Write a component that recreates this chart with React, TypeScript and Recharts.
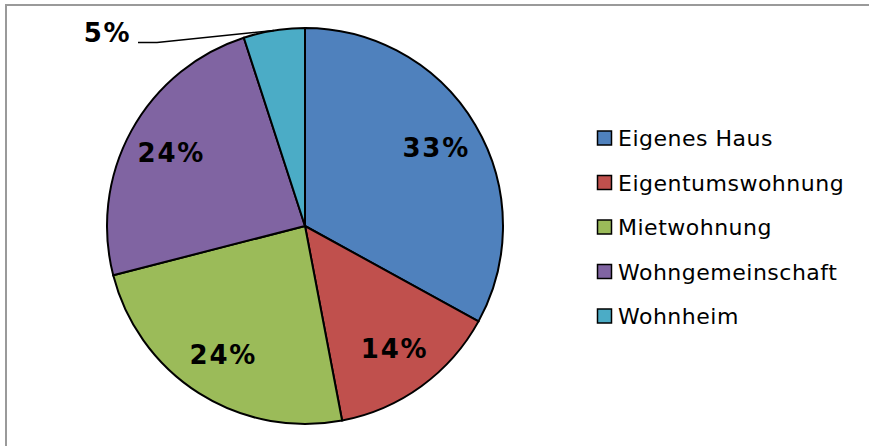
import React from "react";
import { PieChart, Pie, Cell, Legend } from "recharts";

const categories = ["Eigenes Haus", "Eigentumswohnung", "Mietwohnung", "Wohngemeinschaft", "Wohnheim"];
const shares = [33, 14, 24, 24, 5];
const colors = ["#4F81BD", "#C0504D", "#9BBB59", "#8064A2", "#4BACC6"];

const data = categories.map((name, i) => ({ name, value: shares[i] }));

const RAD = Math.PI / 180;
const FONT = "'DejaVu Sans', Verdana, sans-serif";

const renderLabel = (props: any) => {
  const { cx, cy, midAngle, outerRadius, index, value } = props;
  const cos = Math.cos(-midAngle * RAD);
  const sin = Math.sin(-midAngle * RAD);
  if (value < 10) {
    const ex = cx + outerRadius * cos;
    const ey = cy + outerRadius * sin;
    const mx = ex - 117;
    const my = ey + 12;
    const tx = mx - 19;
    return (
      <g key={`lbl-${index}`}>
        <polyline points={`${ex},${ey} ${mx},${my} ${tx},${my}`} fill="none" stroke="#000" strokeWidth={1.5} />
        <text x={tx - 7} y={my} textAnchor="end" fontFamily={FONT} fontWeight="bold" fontSize={26} letterSpacing={1.5} fill="#000">
          {`${value}%`}
        </text>
      </g>
    );
  }
  const r = outerRadius * 0.77;
  const x = cx + r * cos;
  const y = cy + r * sin;
  return (
    <text key={`lbl-${index}`} x={x} y={y} textAnchor="middle" dominantBaseline="central" fontFamily={FONT} fontWeight="bold" fontSize={26} letterSpacing={1.8} fill="#000">
      {`${value}%`}
    </text>
  );
};

const renderLegend = () => (
  <svg width={279} height={230} style={{ display: "block" }}>
    {categories.map((name, i) => {
      const baseline = 26 + i * 44.5;
      return (
        <g key={name}>
          <rect x={8.5} y={baseline - 15} width={14} height={14} fill={colors[i]} stroke="#000" strokeWidth={1.5} />
          <text x={29} y={baseline} fontFamily={FONT} fontSize={22} letterSpacing={0.5} fill="#000">
            {name}
          </text>
        </g>
      );
    })}
  </svg>
);

export default function App() {
  return (
    <div style={{ position: "absolute", left: 0, top: 0, width: 869, height: 446, background: "#fff", overflow: "hidden" }}>
      <div
        style={{
          position: "absolute",
          left: 5,
          top: 4,
          width: 880,
          height: 460,
          borderTop: "2px solid #9a9a9a",
          borderLeft: "2px solid #9a9a9a",
        }}
      />
      <div style={{ position: "absolute", left: 0, top: 0 }}>
        <PieChart width={869} height={446} margin={{ top: 0, right: 0, bottom: 0, left: 0 }}>
          <Pie
            data={data}
            dataKey="value"
            nameKey="name"
            cx={305}
            cy={226}
            outerRadius={198}
            startAngle={90}
            endAngle={-270}
            stroke="#000"
            strokeWidth={2}
            label={renderLabel}
            labelLine={false}
            isAnimationActive={false}
          >
            {data.map((d, i) => (
              <Cell key={d.name} fill={colors[i]} />
            ))}
          </Pie>
          <Legend
            layout="vertical"
            align="right"
            verticalAlign="top"
            content={renderLegend}
            wrapperStyle={{ position: "absolute", left: 589, top: 120, width: 279 }}
          />
        </PieChart>
      </div>
    </div>
  );
}
